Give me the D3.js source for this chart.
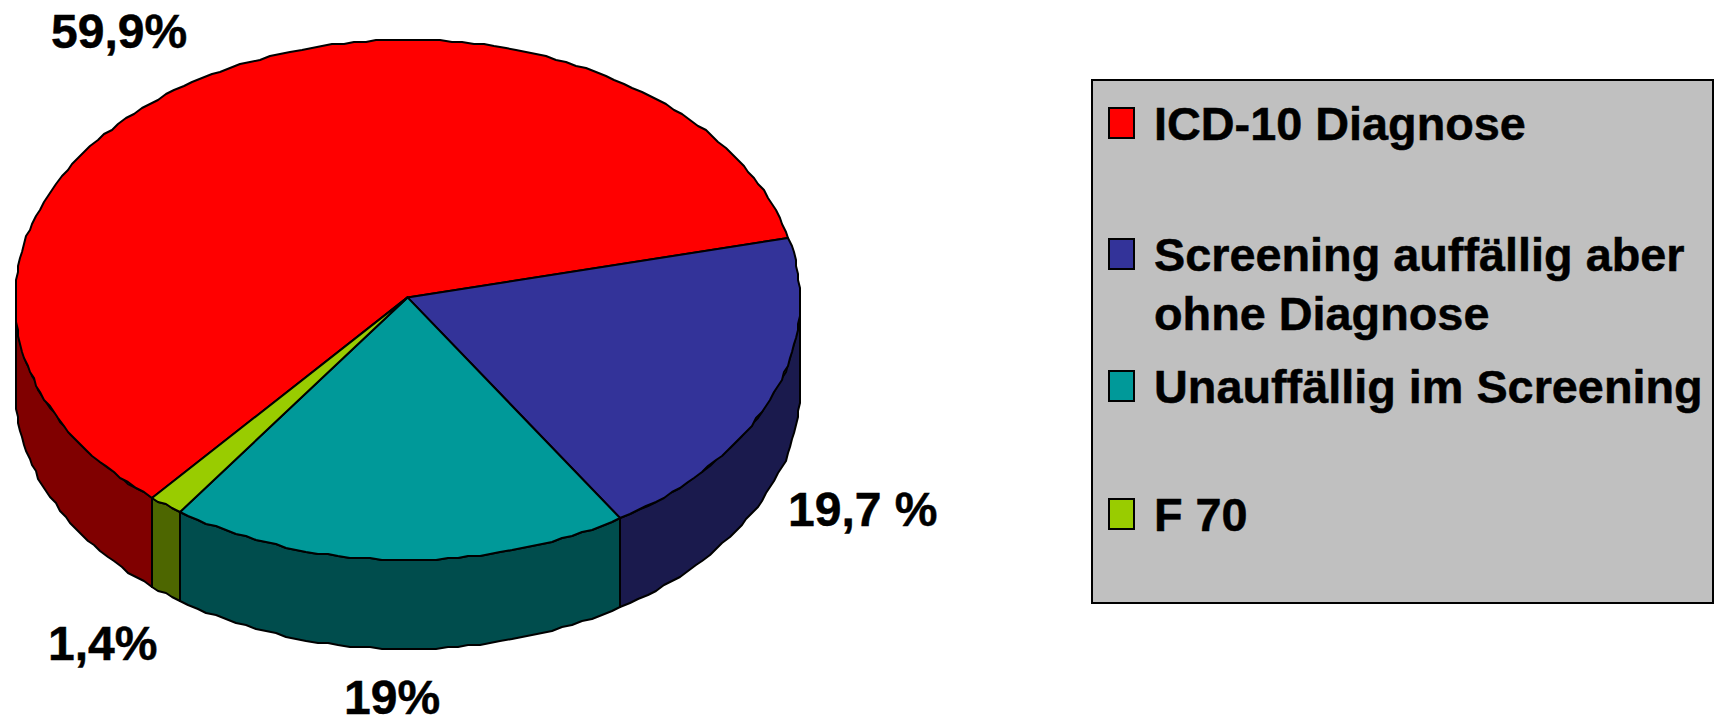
<!DOCTYPE html>
<html lang="de">
<head>
    <meta charset="UTF-8">
    <title></title>
    <style>
        html, body { margin: 0; padding: 0; background: #fff; }
        svg { display: block; }
        text { font-family: "Liberation Sans", Arial, sans-serif; font-weight: bold; fill: #000; stroke: #000; stroke-width: 0.5px; }
    </style>
</head>
<body>
<script src="https://cdnjs.cloudflare.com/ajax/libs/d3/7.8.5/d3.min.js" charset="utf-8"></script>
<script>
    var categories = ['ICD-10 Diagnose', 'Screening auffällig aber ohne Diagnose', 'Unauffällig im Screening', 'F 70'];
    var values = [59.9, 19.7, 19, 1.4];
    var valueLabels = ['59,9%', '19,7 %', '19%', '1,4%'];
    var topColors = ['#ff0000', '#333399', '#009999', '#99cc00'];
    var sideColors = ['#800000', '#1a1a4d', '#004d4d', '#4d6600'];

    var width = 1717, height = 718;
    var depth = 89;
    var startAt = -139.4 * Math.PI / 180;

    // the pie is a unit circle, squashed to an ellipse by the two scales
    var x = d3.scaleLinear().domain([-1, 1]).range([15, 800]);
    var y = d3.scaleLinear().domain([-1, 1]).range([40, 560]);

    var canvas = d3.select('body')
            .append('svg')
            .attr('width', width)
            .attr('height', height);

    var pie = d3.pie().sort(null).startAngle(startAt).endAngle(startAt + 2 * Math.PI);
    var slices = pie(values);

    var line = d3.line().x(function (d) { return d[0]; }).y(function (d) { return d[1]; });

    // snapped to a coarse grid, the reference outline is a bit jagged too
    function snap(v) {
        return Math.round(v / 2) * 2;
    }

    function rim(a, drop) {
        return [snap(x(Math.sin(a))), snap(y(-Math.cos(a))) + drop];
    }

    function arcPoints(a0, a1, drop) {
        var n = Math.max(1, Math.ceil(Math.abs(a1 - a0) * 36));
        return d3.range(n + 1).map(function (i) {
            return rim(a0 + (a1 - a0) * i / n, drop);
        });
    }

    // the side wall only shows on the front half of the pie
    function wallPath(d) {
        var front0 = Math.PI / 2, front1 = 3 * Math.PI / 2;
        var shift = d.endAngle <= front0 || d.startAngle < 0 ? 2 * Math.PI : 0;
        var a0 = Math.max(d.startAngle + shift, front0);
        var a1 = Math.min(d.endAngle + shift, front1);
        return line(arcPoints(a0, a1, 0).concat(arcPoints(a1, a0, depth))) + 'Z';
    }

    function topPath(d) {
        var centre = [[x(0), y(-0.01)]];
        return line(centre.concat(arcPoints(d.startAngle, d.endAngle, 0))) + 'Z';
    }

    canvas.append('g').selectAll('path')
            .data(slices)
            .enter()
            .append('path')
            .attr('d', wallPath)
            .attr('fill', function (d) { return sideColors[d.index]; })
            .attr('stroke', '#000')
            .attr('stroke-width', 2)
            .attr('stroke-linejoin', 'round');

    canvas.append('g').selectAll('path')
            .data(slices)
            .enter()
            .append('path')
            .attr('d', topPath)
            .attr('fill', function (d) { return topColors[d.index]; })
            .attr('stroke', '#000')
            .attr('stroke-width', 2)
            .attr('stroke-linejoin', 'round');

    // value labels
    var labelPos = [[51, 48], [788, 526], [344, 714], [48, 660]];
    canvas.append('g').selectAll('text')
            .data(valueLabels)
            .enter()
            .append('text')
            .text(function (d) { return d; })
            .attr('x', function (d, i) { return labelPos[i][0]; })
            .attr('y', function (d, i) { return labelPos[i][1]; })
            .attr('font-size', 48);

    // legend
    var legend = canvas.append('g');
    legend.append('rect')
            .attr('x', 1092).attr('y', 80)
            .attr('width', 621).attr('height', 523)
            .attr('fill', '#c0c0c0')
            .attr('stroke', '#000')
            .attr('stroke-width', 2);

    var legendLines = [['ICD-10 Diagnose'], ['Screening auffällig aber', 'ohne Diagnose'], ['Unauffällig im Screening'], ['F 70']];
    var legendBase = [140, 271, 403, 531];

    var items = legend.selectAll('g.item')
            .data(categories)
            .enter()
            .append('g')
            .attr('class', 'item');

    items.append('rect')
            .attr('x', 1109)
            .attr('y', function (d, i) { return legendBase[i] - 32; })
            .attr('width', 25)
            .attr('height', 30)
            .attr('fill', function (d, i) { return topColors[i]; })
            .attr('stroke', '#000')
            .attr('stroke-width', 2);

    items.each(function (d, i) {
        d3.select(this).selectAll('text')
                .data(legendLines[i])
                .enter()
                .append('text')
                .text(function (t) { return t; })
                .attr('x', 1154)
                .attr('y', function (t, j) { return legendBase[i] + j * 59; })
                .attr('font-size', 46.8);
    });
</script>
</body>
</html>
